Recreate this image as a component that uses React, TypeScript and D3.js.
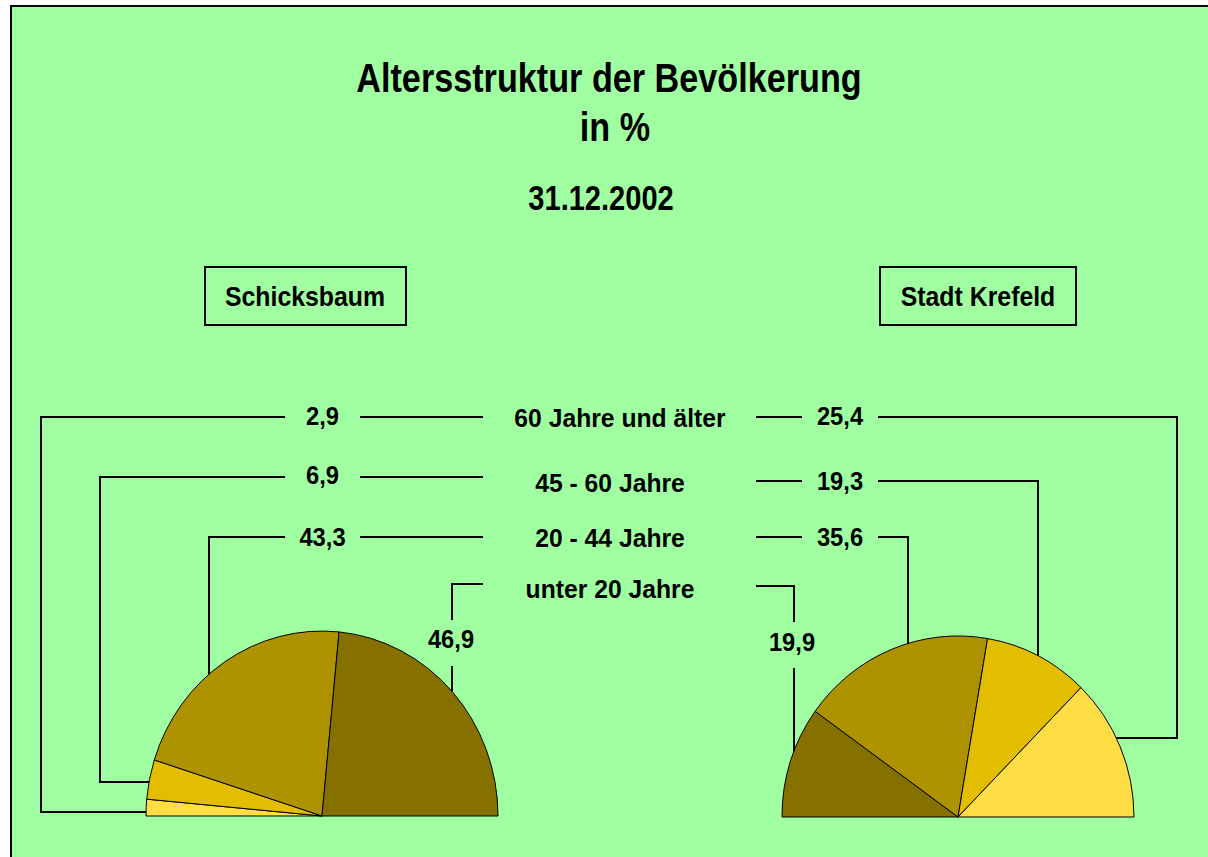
import React, { useEffect, useRef } from 'react';
import * as d3 from 'd3';

// Altersgruppen (von alt nach jung)
const categories = ['60 Jahre und älter', '45 - 60 Jahre', '20 - 44 Jahre', 'unter 20 Jahre'];
const schicksbaumValues = [2.9, 6.9, 43.3, 46.9];
const krefeldValues = [25.4, 19.3, 35.6, 19.9];
const sliceColors = ['#FFDD44', '#E2BD00', '#AE9200', '#857000'];
const titleLines = ['Altersstruktur der Bevölkerung', 'in %'];
const dateLabel = '31.12.2002';
const areaNames = ['Schicksbaum', 'Stadt Krefeld'];

const W = 1208;
const H = 857;
const FONT = '"Liberation Sans", Arial, sans-serif';

export default function App() {
  const svgRef = useRef<SVGSVGElement>(null);

  useEffect(() => {
    if (!svgRef.current) return;
    const svg = d3.select(svgRef.current);
    svg.selectAll('*').remove();

    const de = d3.formatLocale({ decimal: ',', thousands: '.', grouping: [3], currency: ['', ' €'] });
    const fmt = de.format('.1f');

    // Hintergrund + Rahmen (nur links und oben sichtbar)
    svg.append('rect').attr('width', W).attr('height', H).attr('fill', '#fff');
    svg.append('rect')
      .attr('x', 11).attr('y', 6).attr('width', W - 11).attr('height', H - 6)
      .attr('fill', '#A0FFA0');
    svg.append('path')
      .attr('d', `M11,${H}V6H${W}`)
      .attr('fill', 'none').attr('stroke', '#000').attr('stroke-width', 2);

    const text = (x: number, y: number, s: string, size: number, sx: number) =>
      svg.append('text')
        .attr('transform', `translate(${x},${y}) scale(${sx},1)`)
        .attr('text-anchor', 'middle')
        .style('font', `bold ${size}px ${FONT}`)
        .attr('fill', '#000')
        .text(s);

    // Titel
    text(609, 92, titleLines[0], 40, 0.855);
    text(615, 141, titleLines[1], 40, 0.855);
    text(601, 210, dateLabel, 35, 0.83);

    // Kästen mit Ortsnamen
    const boxes = [
      { x0: 205, x1: 406, cx: 305 },
      { x0: 880, x1: 1076, cx: 978 },
    ];
    boxes.forEach((b, i) => {
      svg.append('rect')
        .attr('x', b.x0).attr('y', 267).attr('width', b.x1 - b.x0).attr('height', 58)
        .attr('fill', 'none').attr('stroke', '#000').attr('stroke-width', 2);
      text(b.cx, 306, areaNames[i], 27, 0.92);
    });

    // Halbkreise
    const pies = [
      { cx: 322, cy: 816, rx: 176, ry: 185, values: schicksbaumValues, order: [0, 1, 2, 3] },
      { cx: 958, cy: 817, rx: 176, ry: 181, values: krefeldValues, order: [3, 2, 1, 0] },
    ];
    const arc = d3.arc<d3.PieArcDatum<number>>().innerRadius(0).outerRadius(1);

    pies.forEach((p) => {
      const gen = d3.pie<number>().sort(null).value((i) => p.values[i])
        .startAngle(-Math.PI / 2).endAngle(Math.PI / 2);
      const g = svg.append('g')
        .attr('transform', `translate(${p.cx},${p.cy}) scale(${p.rx},${p.ry})`);
      g.selectAll('path')
        .data(gen(p.order))
        .join('path')
        .attr('d', arc)
        .attr('fill', (d) => sliceColors[d.data])
        .attr('stroke', '#000')
        .attr('stroke-width', 1)
        .attr('vector-effect', 'non-scaling-stroke');
    });

    const edgeY = (p: typeof pies[0], x: number) =>
      p.cy - p.ry * Math.sqrt(Math.max(0, 1 - ((x - p.cx) / p.rx) ** 2));
    const edgeX = (p: typeof pies[0], y: number, side: number) =>
      p.cx + side * p.rx * Math.sqrt(Math.max(0, 1 - ((p.cy - y) / p.ry) ** 2));

    const line = d3.line<[number, number]>();
    const path = (pts: [number, number][]) =>
      svg.append('path').attr('d', line(pts)).attr('fill', 'none')
        .attr('stroke', '#000').attr('stroke-width', 2);

    // Beschriftung in der Mitte
    const midLabels = [
      { x: 620, y: 427 },
      { x: 610, y: 492 },
      { x: 610, y: 547 },
      { x: 610, y: 598 },
    ];
    categories.forEach((c, i) => text(midLabels[i].x, midLabels[i].y, c, 26, 0.95));

    // Führungslinien links (Schicksbaum)
    const L = pies[0];
    const lRows = [417, 477, 537];
    const lElbowX = [41, 100, 209];
    const lBaseY = [425, 484, 546];
    lRows.forEach((y, i) => {
      path([[360, y], [483, y]]);
      if (i < 2) {
        const yy = i === 0 ? 812 : 782;
        path([[285, y], [lElbowX[i], y], [lElbowX[i], yy], [edgeX(L, yy, -1), yy]]);
      } else {
        path([[285, y], [lElbowX[i], y], [lElbowX[i], edgeY(L, lElbowX[i])]]);
      }
      text(322.5, lBaseY[i], fmt(schicksbaumValues[i]), 25, 0.95);
    });
    path([[483, 584], [452, 584], [452, 620]]);
    path([[452, 666], [452, edgeY(L, 452)]]);
    text(451, 648, fmt(schicksbaumValues[3]), 25, 0.95);

    // Führungslinien rechts (Stadt Krefeld)
    const R = pies[1];
    const rRows = [417, 481, 537];
    const rElbowX = [1177, 1038, 908];
    const rBaseY = [425, 490, 546];
    rRows.forEach((y, i) => {
      path([[756, y], [802, y]]);
      if (i === 0) {
        const yy = 738;
        path([[878, y], [rElbowX[i], y], [rElbowX[i], yy], [edgeX(R, yy, 1), yy]]);
      } else {
        path([[878, y], [rElbowX[i], y], [rElbowX[i], edgeY(R, rElbowX[i])]]);
      }
      text(840, rBaseY[i], fmt(krefeldValues[i]), 25, 0.95);
    });
    path([[756, 586], [794, 586], [794, 622]]);
    path([[794, 668], [794, edgeY(R, 794)]]);
    text(792, 651, fmt(krefeldValues[3]), 25, 0.95);
  }, []);

  return (
    <div style={{ position: 'absolute', left: 0, top: 0 }}>
      <svg ref={svgRef} width={W} height={H} style={{ display: 'block' }} />
    </div>
  );
}
